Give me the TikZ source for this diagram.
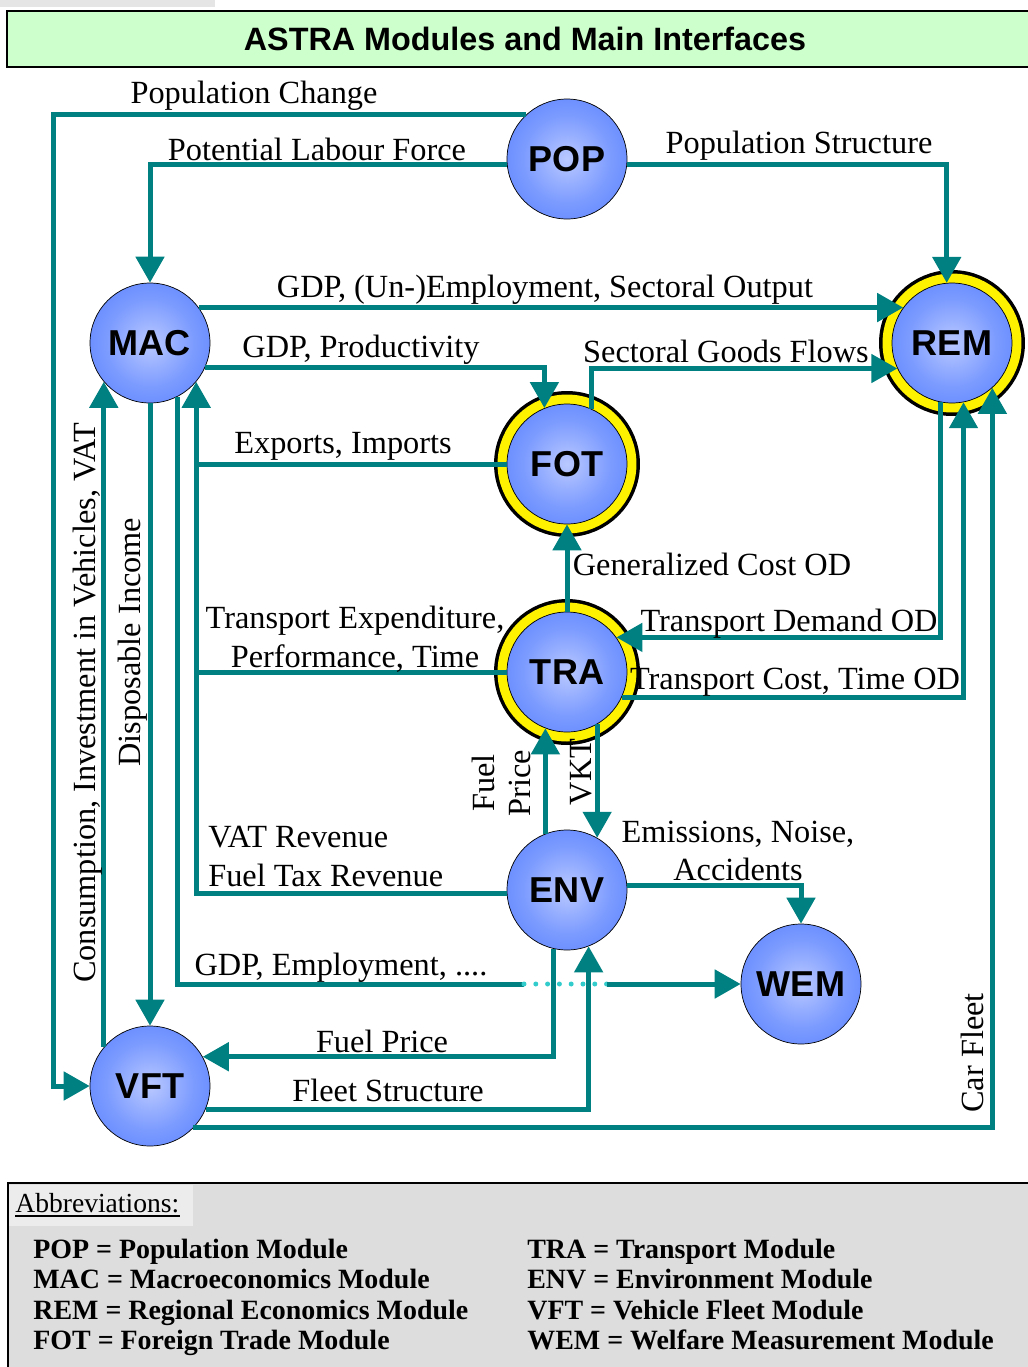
\documentclass[tikz,border=0pt]{standalone}
\usepackage{fontspec}
\setmainfont{Liberation Serif}
\setsansfont{Liberation Sans}
\usetikzlibrary{arrows.meta,positioning}
\definecolor{astrateal}{RGB}{0,128,128}
\definecolor{astrablue}{RGB}{51,102,255}
\definecolor{astralight}{RGB}{185,200,255}
\definecolor{astragreen}{RGB}{204,255,204}
\definecolor{astragray}{RGB}{221,221,221}
\definecolor{astrapatch}{RGB}{236,236,236}
\definecolor{astradots}{RGB}{51,204,204}
\pgfdeclareradialshading{ballshade}{\pgfpoint{0bp}{0bp}}{color(0bp)=(astralight); color(18bp)=(astralight!55!astrablue); color(50bp)=(astrablue)}
\tikzstyle{flow} = [line width=0.1cm, color=astrateal, -{Triangle[width=0.56cm,length=0.52cm]}]
\tikzstyle{line} = [line width=0.1cm, color=astrateal]
\tikzstyle{dots} = [line width=0.1cm, color=astradots, line cap=round, dash pattern=on 0pt off 0.236cm]
\tikzstyle{module} = [circle, minimum size=2.4cm, inner sep=0pt, draw=black, thin, shading=ballshade, font=\sffamily\bfseries\fontsize{20.5}{24}\selectfont]
\tikzstyle{core} = [module, preaction={draw=black, line width=0.52cm}, preaction={draw=yellow, line width=0.38cm}]
\tikzstyle{lbl} = [font=\fontsize{18.4}{22}\selectfont, inner sep=0pt]
\tikzstyle{abbrev} = [font=\bfseries\fontsize{15.9}{18}\selectfont, anchor=base west, inner sep=0pt]

\begin{document}
\begin{tikzpicture}[x=0.02cm, y=-0.02cm]
\useasboundingbox (0,0) rectangle (1028,1367);
% Title bar
\fill[gray!20] (0,0) rectangle (215,7);
\draw[line width=0.04cm, fill=astragreen] (7,11) rectangle (1040,67);
\node[font=\sffamily\bfseries\fontsize{18.4}{22}\selectfont, anchor=base] (title) at (525,50) {ASTRA Modules and Main Interfaces};

% Modules
\node[module] (POP) at (567,159) {POP};
\node[module] (MAC) at (150,343) {MAC};
\node[core] (REM) at (952,343) {REM};
\node[core] (FOT) at (567,464) {FOT};
\node[core] (TRA) at (567,672) {TRA};
\node[module] (ENV) at (567,890) {ENV};
\node[module] (WEM) at (801,984) {WEM};
\node[module] (VFT) at (150,1086) {VFT};

% Bends
\coordinate (pcbend) at (53,1086);
\coordinate (dotA) at (524,984);
\coordinate (dotB) at (607,984);

% Interfaces
\draw[flow] (POP.133) -| (pcbend) -- (VFT.west);
\draw[flow] (POP.185) -| (MAC.north);
\draw[flow] (POP.-5) -| (REM.95);
\draw[flow] (MAC.36) -- (REM.144);
\draw[flow] (MAC.-24) -| (FOT.112);
\draw[flow] (FOT.66) |- (REM.205);
\draw[flow] (ENV.183) -| (MAC.-40);
\draw[line] (FOT.west) -- (FOT.west -| MAC.-40);
\draw[line] (TRA.west) -- (TRA.west -| MAC.-40);
\draw[flow] (MAC.south) -- (VFT.north);
\draw[flow] (VFT.140) -- (MAC.220);
\draw[line] (MAC.-63) |- (dotA);
\draw[dots] (dotA) -- (dotB);
\draw[flow] (dotB) -- (WEM.west);
\draw[flow] (ENV.-103) |- (VFT.29);
\draw[flow] (VFT.-23) -| (ENV.-69);
\draw[flow] (VFT.-44) -| (REM.-48);
\draw[flow] (TRA.north) -- (FOT.south);
\draw[flow] (REM.-101) |- (TRA.35);
\draw[flow] (TRA.-25) -| (REM.-79);
\draw[flow] (ENV.111) -- (TRA.-111);
\draw[flow] (TRA.-60) -- (ENV.60);
\draw[flow] (ENV.4) -| (WEM.north);

% Labels
\node[lbl, anchor=base] at (254,103) {Population Change};
\node[lbl, anchor=base] at (317,160) {Potential Labour Force};
\node[lbl, anchor=base] at (799,153) {Population Structure};
\node[lbl, anchor=base] at (545,297) {GDP, (Un-)Employment, Sectoral Output};
\node[lbl, anchor=base] at (361,357) {GDP, Productivity};
\node[lbl, anchor=base] at (726,362) {Sectoral Goods Flows};
\node[lbl, anchor=base] at (343,453) {Exports, Imports};
\node[lbl, anchor=base] at (355,628) {Transport Expenditure,};
\node[lbl, anchor=base] at (355,667) {Performance, Time};
\node[lbl, anchor=base west] at (208,847) {VAT Revenue};
\node[lbl, anchor=base west] at (208,886) {Fuel Tax Revenue};
\node[lbl, anchor=base] at (341,975) {GDP, Employment, ....};
\node[lbl, anchor=base] at (382,1052) {Fuel Price};
\node[lbl, anchor=base] at (388,1101) {Fleet Structure};
\node[lbl, anchor=base] at (712,575) {Generalized Cost OD};
\node[lbl, anchor=base] at (789,631) {Transport Demand OD};
\node[lbl, anchor=base] at (795,689) {Transport Cost, Time OD};
\node[lbl, anchor=base] at (738,842) {Emissions, Noise,};
\node[lbl, anchor=base] at (738,880) {Accidents};
\node[lbl, rotate=90] at (133,642) {Disposable Income};
\node[lbl, rotate=90] at (88,703) {Consumption, Investment in Vehicles, VAT};
\node[lbl, rotate=90] at (972,1053) {Car Fleet};
\node[lbl, rotate=90] at (581,772) {VKT};
\node[lbl, rotate=90] at (483,783) {Fuel};
\node[lbl, rotate=90] at (520,783) {Price};

% Abbreviations
\draw[line width=0.04cm, fill=astragray] (8,1183) rectangle (1040,1380);
\fill[astrapatch] (9,1185) rectangle (193,1226);
\node[font=\fontsize{15.7}{18}\selectfont, anchor=base west, inner sep=0pt] (abbr) at (15,1212) {Abbreviations:};
\draw[line width=1.5pt] ([yshift=-2.2pt]abbr.base west) -- ([yshift=-2.2pt]abbr.base east);
\node[abbrev] at (33,1258) {POP = Population Module};
\node[abbrev] at (33,1288.5) {MAC = Macroeconomics Module};
\node[abbrev] at (33,1319) {REM = Regional Economics Module};
\node[abbrev] at (33,1349.5) {FOT = Foreign Trade Module};
\node[abbrev] at (527,1258) {TRA = Transport Module};
\node[abbrev] at (527,1288.5) {ENV = Environment Module};
\node[abbrev] at (527,1319) {VFT = Vehicle Fleet Module};
\node[abbrev] at (527,1349.5) {WEM = Welfare Measurement Module};
\end{tikzpicture}
\end{document}
